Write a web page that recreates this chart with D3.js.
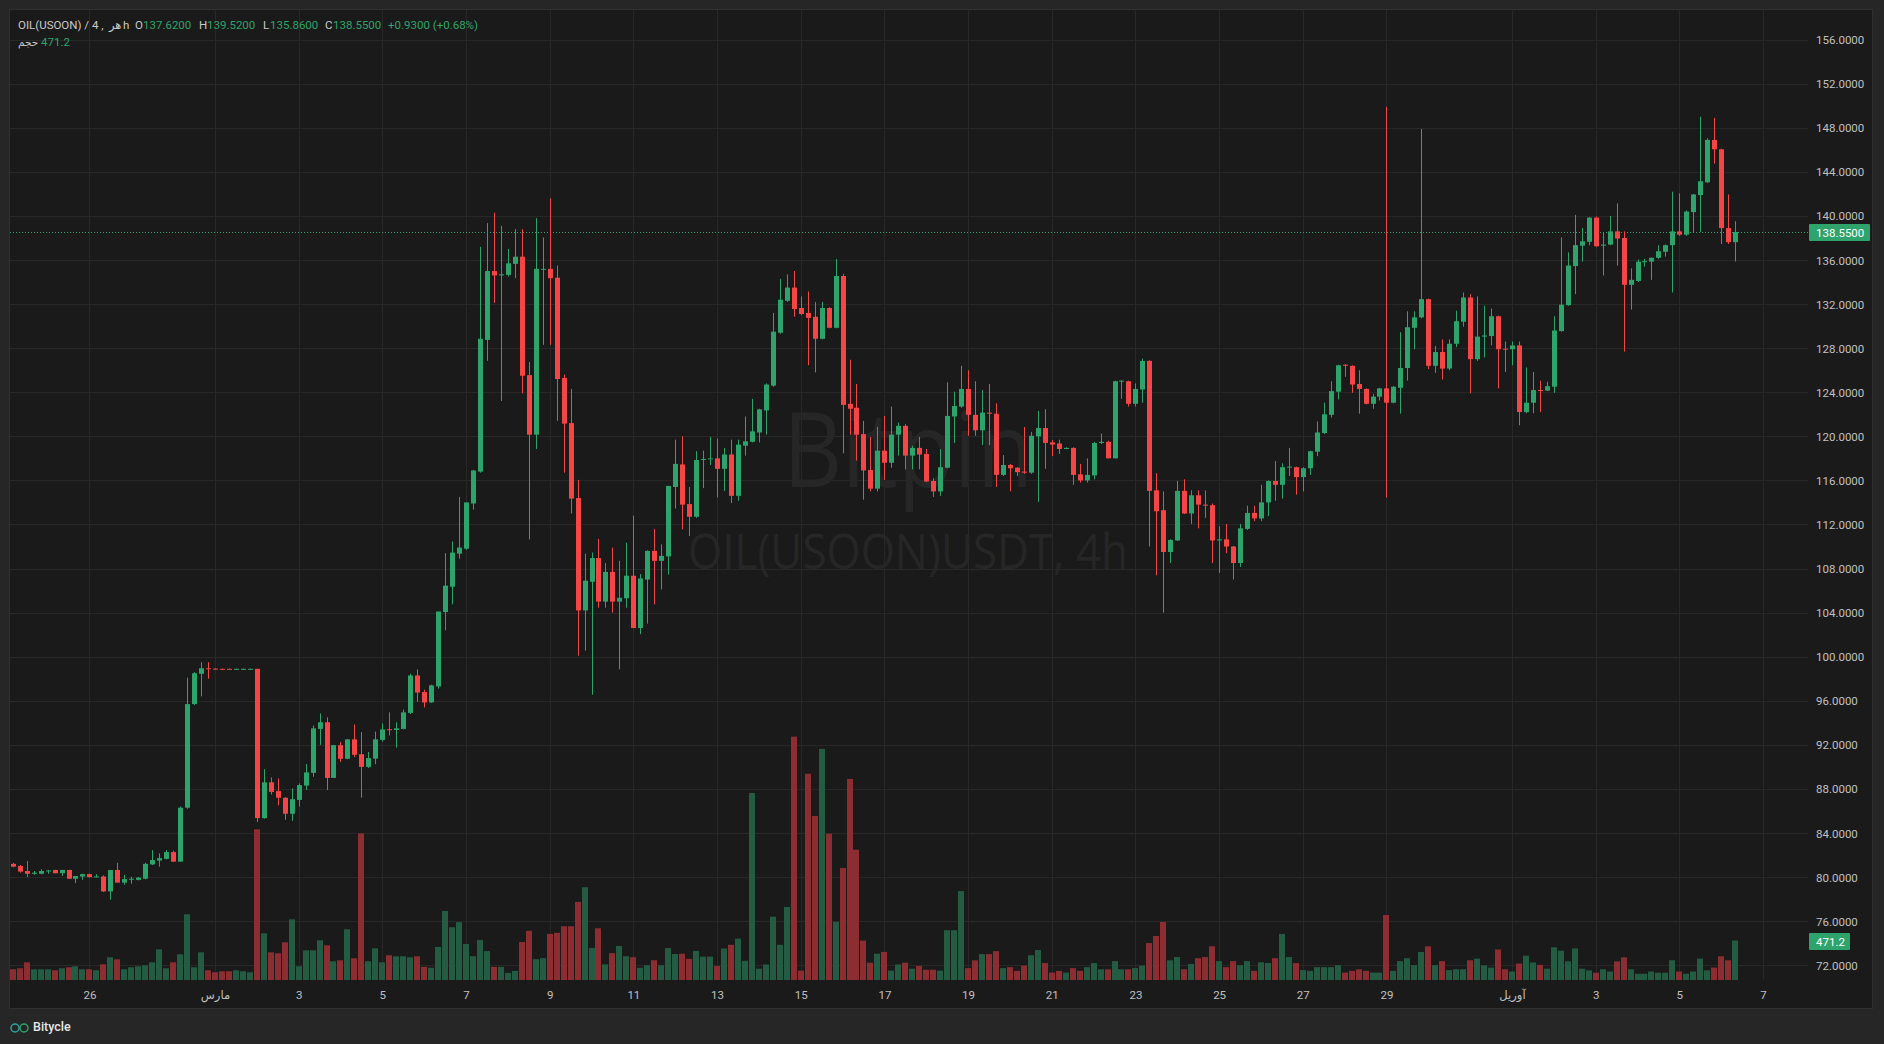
<!DOCTYPE html>
<html><head><meta charset="utf-8">
<script src="https://cdn.jsdelivr.net/npm/d3@7"></script>
<style>
html,body{margin:0;padding:0;background:#262626;overflow:hidden;}
svg{display:block;font-family:Roboto,"DejaVu Sans",sans-serif;}
</style></head><body>
<svg id="c" width="1884" height="1044"></svg>
<script>
// ---- data: 4h candles from 2026-02-24 04:00 to 2026-04-06 08:00 ----
const open = [
81.2,81.0,80.55,80.3,80.3,80.55,80.65,80.35,80.65,79.85,
80.05,80.27,80.0,80.05,78.7,80.65,79.5,79.8,79.75,79.85,
81.15,81.5,81.65,82.27,81.4,86.3,95.7,98.45,98.95,
98.92,98.9,98.9,98.86,98.86,98.86,98.9,85.35,88.6,87.8,
87.2,85.75,87.0,88.3,89.46,93.45,94.05,89.0,91.97,90.73,
92.5,91.15,90.0,90.75,92.45,93.42,93.35,93.45,94.9,98.3,
96.8,95.85,97.3,104.05,106.35,109.35,109.8,113.9,116.8,128.75,
135.0,134.6,134.65,135.65,136.3,125.55,120.15,135.15,135.2,134.4,
125.3,121.2,114.4,104.2,106.8,108.95,105.0,107.7,105.0,105.3,
107.35,102.6,107.0,109.6,108.7,109.1,115.4,117.45,113.85,112.7,
117.85,117.95,118.0,117.05,118.35,114.6,119.15,119.5,120.35,122.35,
124.6,129.4,132.3,133.5,131.65,131.2,130.85,128.85,131.65,129.85,
134.55,122.95,122.6,120.2,116.95,115.25,118.7,117.6,120.15,120.95,
118.25,118.95,118.4,115.95,115.0,117.15,121.8,122.7,124.3,121.95,
120.55,122.15,122.05,116.5,117.4,117.15,116.8,116.7,120.0,120.75,
119.45,119.35,118.85,118.95,116.55,116.0,116.45,119.4,119.5,118.0,
125.0,125.0,122.95,124.25,126.85,115.1,113.3,109.5,110.55,115.05,
113.0,114.65,113.8,113.75,110.55,110.65,110.0,108.5,111.6,113.05,
112.55,114.0,115.95,115.6,117.2,117.2,116.3,117.1,118.6,120.3,
121.95,124.05,126.5,126.4,124.75,124.3,122.95,123.6,124.35,123.05,
124.4,126.2,129.85,130.8,132.45,126.4,127.65,126.15,128.4,130.4,
132.6,127.0,129.05,129.1,130.9,127.95,127.9,128.25,122.2,123.05,
124.2,124.15,124.5,129.55,131.9,135.45,137.3,137.65,139.85,137.3,
137.4,138.6,138.0,133.75,134.1,135.8,135.85,136.2,136.75,137.35,
138.6,138.3,140.35,141.9,143.05,146.9,146.05,138.9,137.62
];
const high = [
81.3,81.1,81.45,80.55,80.7,80.65,80.65,80.65,80.65,80.1,
80.3,80.3,80.27,80.15,80.65,81.3,80.2,80.03,80.0,81.3,
82.45,82.15,82.45,82.4,86.4,98.1,98.6,99.5,99.5,
98.95,98.92,98.92,98.92,98.92,98.92,98.9,89.8,89.05,88.95,
87.25,88.05,88.5,90.25,93.75,94.85,94.5,92.0,92.25,92.5,
93.85,93.15,91.35,93.2,93.95,94.95,94.05,95.2,98.45,98.85,
97.0,97.45,104.1,109.4,110.45,114.5,114.0,116.95,137.2,139.35,
140.3,139.1,137.0,138.8,138.8,126.75,139.8,138.05,141.6,135.5,
125.6,124.3,116.05,109.35,109.45,110.7,108.5,109.9,108.7,110.35,
112.8,107.5,109.65,111.6,110.2,115.5,119.7,120.0,115.4,118.65,
118.7,119.95,119.8,118.95,119.7,119.7,121.8,123.4,122.5,124.8,
131.2,134.3,134.7,135.0,132.7,133.15,132.2,132.2,131.7,136.1,
134.75,126.95,124.75,121.4,119.95,120.85,121.85,122.7,121.25,121.1,
119.15,119.95,118.85,116.2,118.85,124.9,124.05,126.4,126.0,125.0,
124.2,124.75,123.0,118.3,117.5,117.2,120.85,120.4,122.3,122.45,
119.65,119.7,119.0,119.0,117.5,118.0,119.5,120.25,119.6,125.05,
125.1,125.05,124.8,127.05,126.9,116.65,115.0,110.65,115.95,116.1,
115.1,115.1,115.1,113.9,111.85,112.05,110.05,112.05,113.7,113.7,
115.6,116.0,117.75,117.55,118.95,117.25,117.2,118.7,121.35,123.05,
125.0,126.5,126.55,126.45,126.0,124.35,123.85,124.4,149.9,124.55,
129.45,131.35,131.35,147.9,132.5,128.2,128.8,128.8,131.4,133.05,
132.9,132.7,131.85,131.6,130.95,128.6,128.6,128.6,126.25,125.85,
125.05,124.95,130.9,138.05,136.7,140.1,138.9,139.9,139.95,138.55,
140.0,141.15,138.6,135.25,136.05,136.1,136.25,137.35,137.4,142.2,
142.05,140.5,142.0,149.0,147.05,148.9,146.1,141.95,139.52
];
const low = [
80.9,80.4,80.0,80.2,80.25,80.3,80.35,80.1,79.85,79.45,
79.75,79.95,79.98,78.65,77.95,79.5,79.3,79.4,79.7,79.8,
81.1,80.95,81.6,81.4,81.4,86.2,95.6,96.4,98.0,
98.85,98.83,98.84,98.84,98.84,98.84,85.0,85.3,87.5,86.5,
85.2,85.1,86.4,87.9,89.1,92.0,87.9,89.0,90.45,90.7,
90.9,87.2,89.9,90.25,92.3,92.85,91.75,93.4,94.8,95.9,
95.4,95.8,97.1,102.4,104.75,108.9,109.7,113.35,116.7,126.85,
132.1,123.2,134.5,134.35,123.9,110.65,118.85,128.3,128.3,121.4,
116.7,113.0,100.1,100.55,96.55,104.45,104.45,104.0,98.85,104.45,
102.6,102.05,103.0,104.75,106.1,107.45,113.45,111.55,110.95,112.6,
115.3,117.4,114.45,115.05,113.95,114.15,118.25,119.45,119.45,120.15,
124.5,129.3,132.2,130.85,131.0,126.45,125.8,128.8,129.8,129.8,
118.45,120.15,117.8,114.25,115.0,115.0,116.05,117.15,118.25,117.0,
117.0,117.0,115.85,114.5,114.6,117.1,119.4,122.6,120.05,120.05,
119.2,119.2,115.4,116.4,115.0,116.4,116.6,116.6,114.05,117.05,
118.2,118.4,118.85,115.6,115.8,115.8,116.1,119.3,118.0,118.0,
123.4,122.7,122.7,123.05,110.0,107.4,104.0,108.5,110.5,112.95,
112.05,111.65,112.6,108.5,107.6,109.4,107.0,108.15,111.5,112.3,
112.3,112.75,114.15,114.35,116.4,114.7,115.0,116.5,118.2,120.2,
121.7,123.35,125.4,123.95,122.05,122.9,122.5,123.25,114.45,123.0,
122.05,125.05,127.9,130.7,126.1,125.75,125.15,126.0,128.1,129.95,
123.9,126.85,127.15,128.25,124.35,125.85,126.45,121.0,122.1,122.1,
122.2,124.1,123.95,129.5,131.85,132.9,135.85,137.35,137.2,134.6,
137.35,135.5,127.7,131.5,134.0,135.4,134.2,136.1,136.3,133.05,
138.2,138.2,138.55,138.55,143.0,144.75,137.45,137.45,135.86
];
const close = [
80.95,80.5,80.3,80.4,80.55,80.6,80.35,80.65,79.85,80.1,
80.27,80.0,80.06,78.7,80.64,79.5,79.82,79.85,79.95,81.2,
81.55,81.72,82.27,81.4,86.3,95.7,98.5,98.95,98.9,
98.88,98.86,98.86,98.9,98.9,98.9,85.35,88.6,87.73,87.2,
85.75,87.07,88.35,89.5,93.5,94.05,89.0,91.97,90.73,92.5,
91.1,90.0,90.8,92.5,93.4,93.38,93.5,94.95,98.3,96.75,
95.85,97.4,104.1,106.45,109.45,109.9,114.0,116.9,128.85,135.0,
134.6,134.7,135.7,136.3,125.5,120.15,135.2,135.2,134.35,125.2,
121.15,114.35,104.2,106.9,108.95,105.0,107.7,105.0,105.35,107.35,
102.6,107.1,109.6,108.7,109.15,115.5,117.5,113.8,112.7,117.85,
117.95,118.0,117.05,118.35,114.6,119.25,119.55,120.45,122.45,124.7,
129.5,132.4,133.5,131.55,131.1,130.75,128.85,131.65,129.85,134.55,
122.85,122.5,120.15,116.9,115.25,118.7,117.6,120.15,120.95,118.25,
118.95,118.35,115.9,115.0,117.2,121.85,122.75,124.3,121.95,120.55,
122.15,122.05,116.5,117.4,117.1,116.75,116.7,120.05,120.75,119.4,
119.25,118.85,118.95,116.5,116.0,116.5,119.4,119.5,118.0,125.0,
125.05,122.95,124.3,126.85,115.05,113.2,109.5,110.6,115.05,113.0,
114.65,113.8,113.75,110.55,110.65,110.0,108.5,111.65,113.05,112.55,
114.0,115.95,115.6,117.2,117.25,116.3,117.1,118.65,120.35,122.0,
124.1,126.45,126.4,124.7,124.3,122.95,123.6,124.35,123.05,124.5,
126.2,129.9,130.8,132.45,126.4,127.65,126.15,128.4,130.45,132.6,
127.0,129.05,129.15,130.9,127.9,127.9,128.25,122.2,123.05,124.2,
124.15,124.55,129.6,131.95,135.5,137.35,137.7,139.85,137.25,137.4,
138.6,137.95,133.75,134.2,135.85,135.9,136.2,136.8,137.35,138.6,
138.3,140.4,141.95,143.15,146.9,146.05,138.9,137.62,138.55
];
const volume = [
128,140,211,128,128,128,116,140,152,163,
128,128,116,187,271,247,128,152,163,175,
211,366,140,211,307,784,152,330,116,
92,104,104,116,104,92,1798,557,330,319,
450,724,163,354,354,474,414,223,235,605,
259,1750,223,378,211,295,283,283,271,283,
157,146,394,823,629,690,429,284,477,345,
157,157,85,109,453,587,248,260,550,563,
641,641,932,1107,381,617,187,321,406,284,
272,146,175,236,175,381,310,314,252,347,
279,279,168,375,420,493,229,2231,135,185,
755,420,872,2903,112,2461,1957,2757,1745,693,
1336,2399,1554,470,206,314,335,112,185,206,
135,168,123,123,112,594,594,1061,142,235,
309,309,344,142,153,109,172,295,358,202,
88,109,88,142,109,153,202,128,128,225,
128,128,142,172,441,525,692,235,274,128,
191,260,274,402,225,153,225,177,225,109,
211,202,260,550,274,202,118,109,153,153,
153,177,88,109,128,109,88,88,775,109,
225,260,177,334,402,177,225,118,128,128,
236,255,175,148,364,128,101,196,290,209,
181,135,390,350,222,377,135,115,87,128,
101,222,270,128,74,74,101,87,87,236,
101,74,101,255,115,148,283,236,471.2
];
const priceTicks = [72,76,80,84,88,92,96,100,104,108,112,116,120,124,128,132,136,140,144,148,152,156];
const timeTickDates = [[2,26],[3,1],[3,3],[3,5],[3,7],[3,9],[3,11],[3,13],[3,15],[3,17],[3,19],[3,21],[3,23],[3,25],[3,27],[3,29],[4,1],[4,3],[4,5],[4,7]];
const timeTickLabels = ["26","مارس","3","5","7","9","11","13","15","17","19","21","23","25","27","29","آوریل","3","5","7"];
const lastPrice = 138.55, lastVolume = 471.2;

// ---- layout ----
const W=1884,H=1044;
const P={l:10,r:1808,t:10,b:980};
const STEP=4*3600e3;
const t0=Date.UTC(2026,1,24,4);
const times=open.map((_,i)=>new Date(t0+i*STEP));
const UP='#2ea36b', DN='#f44646', UPV='#245c43', DNV='#8b2d31';

const x=d3.scaleTime().domain([new Date(t0-0.39*STEP), new Date(t0+(open.length-1+10.45)*STEP)]).range([P.l,P.r]);
const y=d3.scaleLinear().domain([70.66,158.69]).range([P.b,P.t]);
const yv=d3.scaleLinear().domain([0,11.93*970]).range([P.b,P.t]);

const svg=d3.select('#c');
svg.append('rect').attr('width',W).attr('height',H).attr('fill','#262626');
svg.append('rect').attr('x',9.5).attr('y',9.5).attr('width',1863).attr('height',999)
  .attr('fill','#1a1a1a').attr('stroke','#303030');

svg.append('clipPath').attr('id','pc').append('rect')
  .attr('x',P.l).attr('y',P.t).attr('width',P.r-P.l).attr('height',P.b-P.t);

const g=svg.append('g').attr('clip-path','url(#pc)');
// grid
const tickDates=timeTickDates.map(d=>new Date(Date.UTC(2026,d[0]-1,d[1])));
g.selectAll('.hg').data(priceTicks).join('line')
  .attr('x1',P.l).attr('x2',P.r).attr('y1',d=>Math.round(y(d))+0.5).attr('y2',d=>Math.round(y(d))+0.5)
  .attr('stroke','#282828');
g.selectAll('.vg').data(tickDates).join('line')
  .attr('y1',P.t).attr('y2',P.b).attr('x1',d=>Math.round(x(d))+0.5).attr('x2',d=>Math.round(x(d))+0.5)
  .attr('stroke','#282828');

// watermark
g.append('text').attr('x',908).attr('y',487).attr('text-anchor','middle')
  .attr('font-family','"Open Sans",sans-serif').attr('font-size',104)
  .attr('textLength',250).attr('lengthAdjust','spacingAndGlyphs')
  .attr('fill','#262626').text('Bitpin');
g.append('text').attr('x',908).attr('y',569).attr('text-anchor','middle')
  .attr('font-family','"Open Sans",sans-serif').attr('font-size',50)
  .attr('textLength',440).attr('lengthAdjust','spacingAndGlyphs')
  .attr('fill','#262626').text('OIL(USOON)USDT, 4h');

const idx=d3.range(open.length);
const cx=i=>Math.round(x(times[i]));
// volume
g.selectAll('.v').data(idx).join('rect')
  .attr('x',i=>cx(i)-3).attr('width',6)
  .attr('y',i=>yv(volume[i])).attr('height',i=>P.b-yv(volume[i]))
  .attr('fill',i=>close[i]>=open[i]?UPV:DNV);
// last price line
g.append('line').attr('x1',P.l).attr('x2',P.r)
  .attr('y1',Math.round(y(lastPrice))+0.5).attr('y2',Math.round(y(lastPrice))+0.5)
  .attr('stroke',UP).attr('stroke-dasharray','1,2');
// wicks
g.selectAll('.w').data(idx).join('line')
  .attr('x1',i=>cx(i)+0.5).attr('x2',i=>cx(i)+0.5)
  .attr('y1',i=>y(high[i])).attr('y2',i=>y(low[i]))
  .attr('stroke',i=>close[i]>=open[i]?UP:DN).attr('stroke-width',1);
// bodies
g.selectAll('.b').data(idx).join('rect')
  .attr('x',i=>cx(i)-2).attr('width',5)
  .attr('y',i=>y(Math.max(open[i],close[i])))
  .attr('height',i=>Math.max(1,Math.abs(y(open[i])-y(close[i]))))
  .attr('fill',i=>close[i]>=open[i]?UP:DN);

// price axis
const ya=svg.append('g').attr('transform',`translate(${P.r+8},0)`)
  .call(d3.axisRight(y).tickValues(priceTicks).tickSize(0).tickPadding(0).tickFormat(d3.format('.4f')));
ya.select('.domain').remove();
ya.selectAll('text').attr('fill','#c0c0c0').attr('font-size',11.5).attr('font-family','Roboto,sans-serif').attr('dy','0.35em');

// time axis
const xa=svg.append('g').attr('transform',`translate(0,${P.b})`)
  .call(d3.axisBottom(x).tickValues(tickDates).tickSize(0).tickPadding(0).tickFormat((d,i)=>timeTickLabels[i]));
xa.select('.domain').remove();
xa.selectAll('text').attr('fill','#c0c0c0').attr('font-size',11.5).attr('font-family','Roboto,"DejaVu Sans",sans-serif').attr('y',15).attr('dy','0.35em');

// price label
const ly=Math.round(y(lastPrice));
svg.append('rect').attr('x',1809).attr('y',ly-8).attr('width',61).attr('height',17).attr('fill',UP).attr('rx',1);
svg.append('text').attr('x',1816).attr('y',ly+0.5).attr('dy','0.35em').attr('fill','#ffffff')
  .attr('font-size',11.5).text(d3.format('.4f')(lastPrice));
const vy=Math.round(yv(lastVolume));
svg.append('rect').attr('x',1809).attr('y',vy-8).attr('width',41).attr('height',17).attr('fill',UP).attr('rx',1);
svg.append('text').attr('x',1816).attr('y',vy+0.5).attr('dy','0.35em').attr('fill','#ffffff')
  .attr('font-size',11.5).text(lastVolume);

// header
const hdr=svg.append('g').attr('font-size',11.5);
const GR='#c9c9c9';
const items=[
  [18,'OIL(USOON) / 4 ,',GR],
  [109,'هر',GR],
  [123,'h',GR],
  [135,'O',GR],[143,d3.format('.4f')(open[open.length-1]),UP],
  [199,'H',GR],[207,d3.format('.4f')(high[high.length-1]),UP],
  [263,'L',GR],[270,d3.format('.4f')(low[low.length-1]),UP],
  [325,'C',GR],[333,d3.format('.4f')(close[close.length-1]),UP],
  [388,'+0.9300 (+0.68%)',UP]
];
items.forEach(d=>hdr.append('text').attr('x',d[0]).attr('y',25).attr('dy','0.35em').attr('fill',d[2]).text(d[1]));
hdr.append('text').attr('x',18).attr('y',42).attr('dy','0.35em').attr('fill',GR).attr('font-size',10.5).text('حجم');
hdr.append('text').attr('x',41).attr('y',42).attr('dy','0.35em').attr('fill',UP).text(lastVolume);

// footer logo
const lg=svg.append('g');
lg.append('circle').attr('cx',15).attr('cy',1028).attr('r',4).attr('fill','none').attr('stroke','#2ea3a0').attr('stroke-width',1.5);
lg.append('circle').attr('cx',24).attr('cy',1028).attr('r',4).attr('fill','none').attr('stroke','#2ea36b').attr('stroke-width',1.5);
lg.append('text').attr('x',33).attr('y',1027).attr('dy','0.35em').attr('fill','#e6e6e6').attr('font-size',12.5).attr('font-weight',500).text('Bitycle');
</script>
</body></html>
